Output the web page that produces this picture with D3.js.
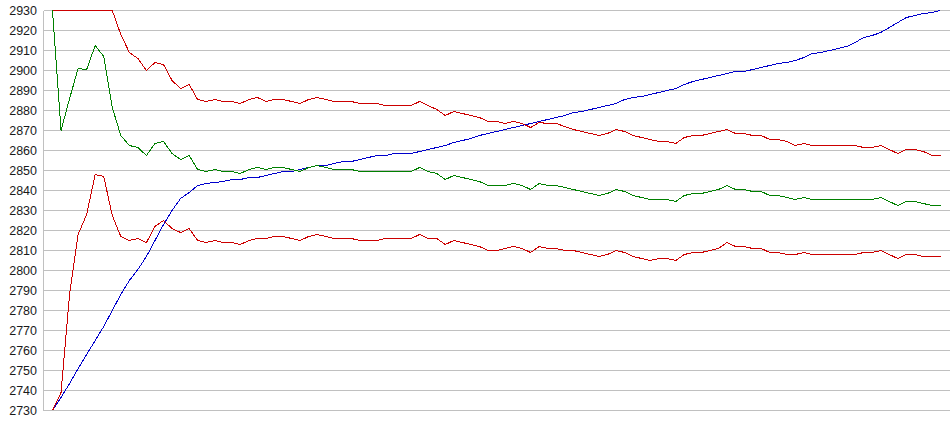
<!DOCTYPE html>
<html>
<head>
<meta charset="utf-8">
<script src="https://cdn.jsdelivr.net/npm/d3@7"></script>
<style>
  html, body { margin: 0; padding: 0; background: #ffffff; }
  svg { display: block; }
  .tick-label { font-family: "Liberation Sans", Arial, sans-serif; font-size: 12.5px; fill: #1a1a1a; }
</style>
</head>
<body>
<svg id="chart" width="950" height="435"></svg>
<script>
// ---- data ----
const yTicks = [2730, 2740, 2750, 2760, 2770, 2780, 2790, 2800, 2810, 2820, 2830, 2840, 2850,
                2860, 2870, 2880, 2890, 2900, 2910, 2920, 2930];

const upperBand = [
  2930, 2930, 2930, 2930, 2930, 2930, 2930, 2930, 2918, 2909,
  2906, 2900, 2904, 2903, 2895, 2891, 2893, 2885.5, 2884.5, 2885.5,
  2884.5, 2884.5, 2883.5, 2885.5, 2886.5, 2884.5, 2885.5, 2885.5, 2884.5, 2883.5,
  2885.5, 2886.5, 2885.5, 2884.5, 2884.5, 2884.5, 2883.5, 2883.5, 2883.5, 2882.5,
  2882.5, 2882.5, 2882.5, 2884.5, 2882.5, 2880.5, 2877.5, 2879.5, 2878.5, 2877.5,
  2876.5, 2874.5, 2874.5, 2873.5, 2874.5, 2873.5, 2871.5, 2874, 2873.5, 2873.5,
  2872, 2870.5, 2869.5, 2868.5, 2867.5, 2868.5, 2870.5, 2869.5, 2867.5, 2866.5,
  2865.5, 2864.5, 2864.5, 2863.5, 2866.5, 2867.5, 2867.5, 2868.5, 2869.5, 2870.5,
  2868.5, 2868.5, 2867.5, 2867.5, 2865.5, 2865.5, 2864.5, 2862.5, 2863.5, 2862.5,
  2862.5, 2862.5, 2862.5, 2862.5, 2862.5, 2861.5, 2861.5, 2862.5, 2860.5, 2858.5,
  2860.5, 2860.5, 2859.5, 2857.5, 2857.5
];

const estimate = [
  2930, 2870, 2886, 2901, 2900.5, 2912.5, 2907, 2881.5, 2867.5, 2862.5,
  2861.5, 2857.5, 2863.5, 2864.5, 2858.5, 2855.5, 2857.5, 2850.5, 2849.5, 2850.5,
  2849.5, 2849.5, 2848.5, 2850.5, 2851.5, 2850.5, 2851.5, 2851.5, 2850.5, 2849.5,
  2851.5, 2852.5, 2851.5, 2850.5, 2850.5, 2850.5, 2849.5, 2849.5, 2849.5, 2849.5,
  2849.5, 2849.5, 2849.5, 2851.5, 2849.5, 2848.5, 2845.5, 2847.5, 2846.5, 2845.5,
  2844.5, 2842.5, 2842.5, 2842.5, 2843.5, 2842.5, 2840.5, 2843.5, 2842.5, 2842.5,
  2841.5, 2840.5, 2839.5, 2838.5, 2837.5, 2838.5, 2840.5, 2839.5, 2837.5, 2836.5,
  2835.5, 2835.5, 2835.5, 2834.5, 2837.5, 2838.5, 2838.5, 2839.5, 2840.5, 2842.5,
  2840.5, 2840.5, 2839.5, 2839.5, 2837.5, 2837.5, 2836.5, 2835.5, 2836.5, 2835.5,
  2835.5, 2835.5, 2835.5, 2835.5, 2835.5, 2835.5, 2835.5, 2836.5, 2834.5, 2832.5,
  2834.5, 2834.5, 2833.5, 2832.5, 2832.5
];

const lowerBand = [
  2730, 2739, 2788, 2818, 2828, 2848, 2847, 2827.5, 2817, 2815,
  2816, 2814, 2822, 2825, 2821, 2819, 2821, 2815, 2814, 2815,
  2814, 2814, 2813, 2815, 2816, 2816, 2817, 2817, 2816, 2815,
  2817, 2818, 2817, 2816, 2816, 2816, 2815, 2815, 2815, 2816,
  2816, 2816, 2816, 2818, 2816, 2816, 2813, 2815, 2814, 2813,
  2812, 2810, 2810, 2811, 2812, 2811, 2809, 2812, 2811, 2811,
  2810, 2810, 2809, 2808, 2807, 2808, 2810, 2809, 2807, 2806,
  2805, 2806, 2806, 2805, 2808, 2809, 2809, 2810, 2811, 2814,
  2812, 2812, 2811, 2811, 2809, 2809, 2808, 2808, 2809, 2808,
  2808, 2808, 2808, 2808, 2808, 2809, 2809, 2810, 2808, 2806,
  2808, 2808, 2807, 2807, 2807
];

const rising = [
  2730, 2736.5, 2743.5, 2751, 2758, 2765, 2772, 2780, 2788, 2795,
  2800.5, 2807, 2815, 2823, 2830, 2836, 2839, 2842.5, 2843.5, 2844,
  2844.5, 2845.5, 2845.5, 2846.5, 2846.5, 2847.5, 2848.5, 2849.5, 2849.5, 2850.5,
  2851.5, 2852.5, 2852.5, 2853.5, 2854.5, 2854.5, 2855.5, 2856.5, 2857.5, 2857.5,
  2858.5, 2858.5, 2858.5, 2859.5, 2860.5, 2861.5, 2862.5, 2864, 2865, 2866,
  2867.5, 2868.5, 2869.5, 2870.5, 2871.5, 2872.5, 2873.5, 2874.5, 2875.5, 2876.5,
  2877.5, 2879, 2879.5, 2880.5, 2881.5, 2882.5, 2883.5, 2885.5, 2886.5, 2887,
  2888, 2889, 2890, 2891, 2893, 2894.5, 2895.5, 2896.5, 2897.5, 2898.5,
  2899.5, 2899.5, 2900.5, 2901.5, 2902.5, 2903.5, 2904, 2905, 2906.5, 2908.5,
  2909, 2910, 2911, 2912, 2914, 2916.5, 2917.5, 2919, 2921.5, 2924,
  2926.5, 2927.5, 2928.5, 2929, 2930
];

const seriesList = [
  { name: "rising", values: rising, color: "#0000cc" },
  { name: "estimate", values: estimate, color: "#008000" },
  { name: "lowerBand", values: lowerBand, color: "#cc0000" },
  { name: "upperBand", values: upperBand, color: "#cc0000" }
];

// ---- drawing ----
const svg = d3.select("#chart");
const n = rising.length;

const x = d3.scaleLinear().domain([0, n - 1]).range([52, 940]);
const y = d3.scaleLinear().domain([2730, 2930]).range([410, 10]);

const g = svg.append("g").attr("transform", "translate(0.5,0.5)");

// horizontal gridlines
g.append("g").selectAll("line").data(yTicks).join("line")
  .attr("x1", 43).attr("x2", 950)
  .attr("y1", d => Math.round(y(d))).attr("y2", d => Math.round(y(d)))
  .attr("stroke", "#c0c0c0").attr("stroke-width", 1)
  .attr("shape-rendering", "crispEdges");

// left axis line
g.append("line")
  .attr("x1", 43).attr("x2", 43)
  .attr("y1", Math.round(y(2930))).attr("y2", Math.round(y(2730)))
  .attr("stroke", "#c0c0c0").attr("shape-rendering", "crispEdges");

// tick labels
svg.append("g").selectAll("text").data(yTicks).join("text")
  .attr("class", "tick-label")
  .attr("x", 37)
  .attr("y", d => y(d))
  .attr("dy", "0.36em")
  .attr("text-anchor", "end")
  .text(d => d);

const line = d3.line().x((d, i) => x(i)).y(d => y(d));

g.append("g").selectAll("path").data(seriesList).join("path")
  .attr("d", d => line(d.values))
  .attr("fill", "none")
  .attr("stroke", d => d.color)
  .attr("stroke-width", 1)
  .attr("shape-rendering", "crispEdges");
</script>
</body>
</html>
